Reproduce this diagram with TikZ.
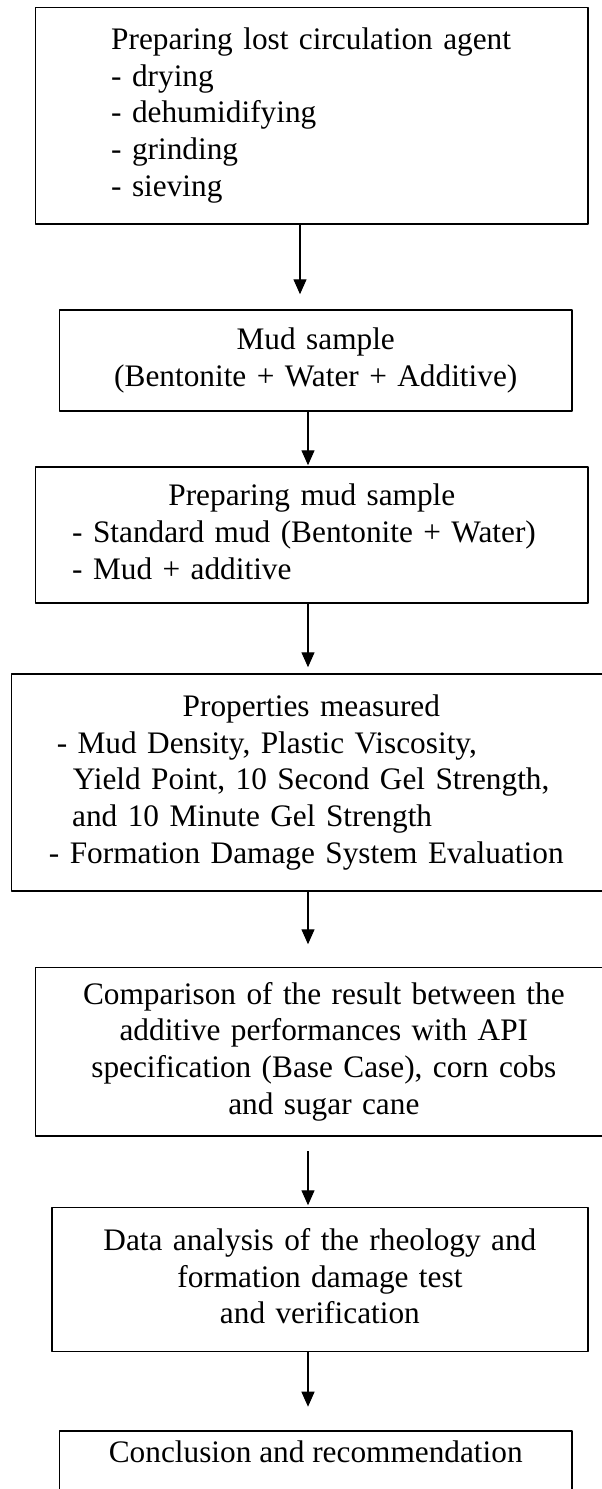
\documentclass[tikz,border=0pt]{standalone}
\usepackage{fontspec}
\setmainfont{Liberation Serif}
\usetikzlibrary{arrows.meta}
\newcommand{\centline}[1]{\makebox[\linewidth]{\strut #1}}
\newcommand{\indline}[2]{\hspace*{#1pt}\strut #2}
\tikzset{
  stepbox/.style={draw, rectangle, line width=1.5pt, inner xsep=0pt, inner ysep=0pt,
    font=\fontsize{31.3}{36.7}\selectfont},
  flow/.style={-{Triangle[length=15pt,width=13pt]}, line width=1.3pt},
}
\begin{document}
\begin{tikzpicture}[x=1pt, y=-1pt, line join=round]
  \clip (0,0) rectangle (602,1489);
  \coordinate (ax) at (308,0);
  \coordinate (axtop) at (300,0);
  % steps
  \node[stepbox, text width=552.3pt, minimum height=216.7pt, align=left] (agent) at (311.85,115.65)
    {\indline{75.5}{Preparing lost circulation agent}\\
     \indline{75.5}{- drying}\\
     \indline{75.5}{- dehumidifying}\\
     \indline{75.5}{- grinding}\\
     \indline{75.5}{- sieving}};
  \node[stepbox, text width=512.5pt, minimum height=101pt, align=center] (mud) at (315.75,360.5)
    {\strut Mud sample\\ \strut(Bentonite + Water + Additive)};
  \node[stepbox, text width=552.3pt, minimum height=136pt, align=left] (prepmud) at (311.85,535)
    {\centline{Preparing mud sample}\\
     \indline{36.5}{- Standard mud (Bentonite + Water)}\\
     \indline{36.5}{- Mud + additive}};
  \node[stepbox, text width=599.3pt, minimum height=217pt, align=left] (props) at (311.35,782.5)
    {\centline{Properties measured}\\
     \indline{45.1}{- Mud Density, Plastic Viscosity,}\\
     \indline{61.3}{Yield Point, 10 Second Gel Strength,}\\
     \indline{60.5}{and 10 Minute Gel Strength}\\
     \indline{37.3}{- Formation Damage System Evaluation}};
  \node[stepbox, text width=576.3pt, minimum height=168.3pt, align=center] (compare) at (323.85,1051.85)
    {\strut Comparison of the result between the\\
     \strut additive performances with API\\
     \strut specification (Base Case), corn cobs\\
     \strut and sugar cane};
  \node[stepbox, text width=536.2pt, minimum height=144pt, align=center] (analysis) at (319.9,1279.7)
    {\strut Data analysis of the rheology and\\
     \strut formation damage test\\
     \strut and verification};
  \node[stepbox, minimum width=512.5pt, text height=31.7pt, text depth=90pt, anchor=north] (concl) at (315.75,1430)
    {Conclusion and recommendation};
  % arrows
  \draw[flow, shorten >=15pt] (agent.south -| axtop) -- (mud.north -| axtop);
  \draw[flow, shorten >=1pt] (mud.south -| ax) -- (prepmud.north -| ax);
  \draw[flow, shorten >=6pt] (prepmud.south -| ax) -- (props.north -| ax);
  \draw[flow, shorten >=22.7pt] (props.south -| ax) -- (compare.north -| ax);
  \draw[flow, shorten <=14.7pt, shorten >=1.7pt] (compare.south -| ax) -- (analysis.north -| ax);
  \draw[flow, shorten >=23.3pt] (analysis.south -| ax) -- (concl.north -| ax);
\end{tikzpicture}
\end{document}
